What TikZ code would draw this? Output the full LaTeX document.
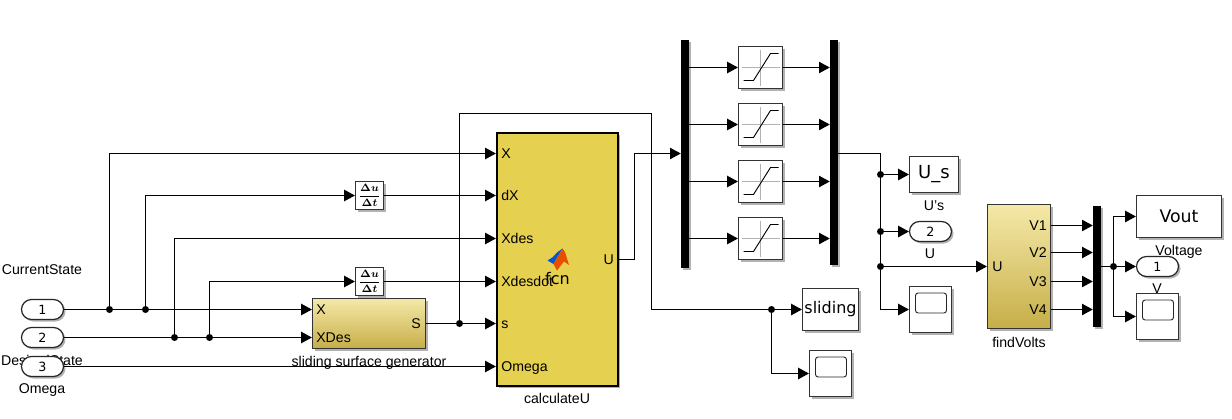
\documentclass[tikz,border=0pt]{standalone}
\usepackage{fontspec}
\setmainfont{Liberation Sans}
\newfontfamily\dejavu{DejaVu Sans}
\usetikzlibrary{arrows.meta,shadows}

\def\pxu{0.75pt}
\definecolor{fcnyellow}{HTML}{E6D050}
\definecolor{subtop}{HTML}{F5E9A8}
\definecolor{subbot}{HTML}{C6AE48}

\newcommand{\dudt}{\mbox{\boldmath$\displaystyle\frac{\Delta u}{\Delta t}$}}

\tikzset{
  wire/.style={line width=0.75pt, -{Triangle[length=8pt,width=8.5pt]}},
  plainwire/.style={line width=0.75pt},
  dot/.style={circle, fill=black, inner sep=0pt, minimum size=7*\pxu},
  boxsize/.style 2 args={minimum width=#1*\pxu, minimum height=#2*\pxu},
  softshadow/.style={general shadow={shadow xshift=1.5pt, shadow yshift=-1.5pt, fill=black, opacity=0.3}},
  block/.style={draw=black!80, line width=0.9pt, fill=white, inner sep=0pt, softshadow},
  subsystem/.style={block, top color=subtop, bottom color=subbot},
  bar/.style={fill=black, inner sep=0pt, softshadow},
  port/.style={draw=black!85, line width=0.9pt, fill=white, rounded corners=7.5pt, inner sep=0pt, boxsize={42}{20}, softshadow, font=\fontsize{9.5}{11}\dejavu},
  screen/.style={draw=black!85, line width=0.7pt, rounded corners=2pt, boxsize={31}{20}, inner sep=0pt},
  txt/.style={font=\fontsize{10.6}{12}\selectfont, inner sep=0pt, text height=7.6pt, text depth=0pt},
  portlbl/.style={txt, anchor=west},
  outlbl/.style={txt, anchor=east},
  biglbl/.style={font=\fontsize{12}{14}\dejavu, inner sep=0pt},
}

\begin{document}
\begin{tikzpicture}[x=\pxu, y=-\pxu, line cap=butt, line join=miter]
  \useasboundingbox (0,0) rectangle (1232,418);

  % labels under the inports
  \node[txt] (lblcurrent) at (42,269) {CurrentState};
  \node[txt] (lbldesired) at (42,360.5) {DesiredState};
  \node[txt] (lblomega) at (42,388) {Omega};
  \node[txt] (lblsliding) at (369,361) {sliding surface generator};

  \node[port] (inone) at (42.5,309.5) {1};
  \node[port] (intwo) at (42.5,337.5) {2};
  \node[port] (inthree) at (42.5,366.5) {3};

  % blocks
  \node[subsystem, boxsize={113}{50}] (surface) at (369,323.5) {};
  \node[portlbl] (surfX) at (316,309.5) {X};
  \node[portlbl] (surfXDes) at (316,337.5) {XDes};
  \node[outlbl] (surfS) at (421,323.5) {S};

  \node[block, boxsize={28}{28}, font=\fontsize{8.5}{9}\selectfont] (derivone) at (369.5,195.5) {\dudt};
  \node[block, boxsize={28}{28}, font=\fontsize{8.5}{9}\selectfont] (derivtwo) at (369.5,281.5) {\dudt};

  \node[block, draw=black, line width=1.7pt, fill=fcnyellow, boxsize={121}{253}] (calc) at (557.5,259.5) {};
  \node[portlbl] (calcX) at (501,153.5) {X};
  \node[portlbl] (calcdX) at (501,195.5) {dX};
  \node[portlbl] (calcXdes) at (501,238.5) {Xdes};
  \node[portlbl] (calcXdot) at (501,281.5) {Xdesdot};
  \node[portlbl] (calcs) at (501,323.5) {s};
  \node[portlbl] (calcOmega) at (501,366.5) {Omega};
  \node[outlbl] (calcU) at (614,259.5) {U};
  \node[txt] (lblcalc) at (557,398) {calculateU};

  % matlab logo and function name
  \fill[blue!60!cyan!85!black] (547.5,260.5) -- (553,257) -- (557,252.5) -- (562.5,248.5) -- (558,256) -- (553.5,264) -- cycle;
  \fill[orange!70!red!90!black] (562.5,248.5) -- (565,252) -- (569,265) -- (564,261.5) -- (557,270.5) -- (553.5,264) -- (558,256) -- cycle;
  \node[font=\fontsize{12}{14}\dejavu, inner sep=0pt] (lblfcn) at (557.5,279) {fcn};

  \node[bar, boxsize={8}{228}] (demux) at (685,153.5) {};
  \node[bar, boxsize={8}{225}] (mux) at (834,152.5) {};

  \foreach \i/\y in {1/67.5,2/124.5,3/181.5,4/238.5}{
    \node[block, boxsize={44}{42}] (sat\i) at (760.5,\y) {};
    \begin{scope}[shift={(sat\i.center)}]
      \draw[black!30, line width=0.6pt] (-19,0) -- (19,0) (0,-18) -- (0,18);
      \draw[line width=0.7pt] (-17,13) -- (-7,13) -- (10,-14) -- (18,-14);
    \end{scope}
    \draw[wire] (demux.east |- sat\i.west) -- (sat\i.west);
    \draw[wire] (sat\i.east) -- (mux.west |- sat\i.east);
  }

  \node[block, boxsize={49}{36}] (Us) at (934,174.5) {};
  \node[biglbl, font=\fontsize{13.5}{15}\dejavu] (lblUsbox) at (934,174) {U\_s};
  \node[txt] (lblUs) at (934,205) {U's};
  \node[port] (outtwo) at (930.5,231.5) {2};
  \node[txt] (lblU) at (930,253) {U};
  \node[block, boxsize={42}{46}] (scopeU) at (930.5,309.5) {};
  \node[screen] (scrU) at (931,303) {};

  \node[subsystem, boxsize={63}{124}] (volts) at (1019,266.5) {};
  \node[portlbl] (voltsU) at (992,266.5) {U};
  \node[outlbl] (voltsVa) at (1047,225.5) {V1};
  \node[outlbl] (voltsVb) at (1047,252.5) {V2};
  \node[outlbl] (voltsVc) at (1047,281.5) {V3};
  \node[outlbl] (voltsVd) at (1047,309.5) {V4};
  \node[txt] (lblvolts) at (1019,342) {findVolts};
  \node[bar, boxsize={8}{121}] (muxV) at (1097,266.5) {};

  \node[block, boxsize={85}{42}] (vout) at (1179,216.5) {};
  \node[biglbl, font=\fontsize{13}{15}\dejavu] (lblvoutbox) at (1179,216) {Vout};
  \node[txt] (lblvoltage) at (1179,250.5) {Voltage};
  \node[txt] (lblV) at (1157,288) {V};
  \node[port] (outone) at (1157.5,266.5) {1};
  \node[block, boxsize={42}{46}] (scopeV) at (1157.5,316.5) {};
  \node[screen] (scrV) at (1158,310) {};

  \node[block, boxsize={56}{42}] (sliding) at (830.5,309.5) {};
  \node[biglbl] (lblslidingbox) at (830.5,309) {sliding};
  \node[block, boxsize={42}{46}] (scopeS) at (830.5,373.5) {};
  \node[screen] (scrS) at (831,367) {};

  % junctions
  \node[dot] (ja) at (109.5,309.5) {};
  \node[dot] (jb) at (145.5,309.5) {};
  \node[dot] (jc) at (174.5,337.5) {};
  \node[dot] (jd) at (209.5,337.5) {};
  \node[dot] (js) at (459.5,323.5) {};
  \node[dot] (jslide) at (771.5,309.5) {};
  \node[dot] (jUs) at (880.5,174.5) {};
  \node[dot] (jUo) at (880.5,231.5) {};
  \node[dot] (jUf) at (880.5,266.5) {};
  \node[dot] (jV) at (1113.5,266.5) {};

  % wires on the left
  \draw[plainwire] (inone) -- (ja);
  \draw[plainwire] (ja) -- (jb);
  \draw[wire] (jb) -- (surface.west |- surfX.west);
  \draw[plainwire] (intwo) -- (jc);
  \draw[plainwire] (jc) -- (jd);
  \draw[wire] (jd) -- (surface.west |- surfXDes.west);
  \draw[wire] (inthree.east) -- (calc.west |- calcOmega.west);

  \draw[wire] (ja) |- (calc.west |- calcX.west);
  \draw[wire] (jb) |- (derivone.west);
  \draw[wire] (derivone.east) -- (calc.west |- calcdX.west);
  \draw[wire] (jc) |- (calc.west |- calcXdes.west);
  \draw[wire] (jd) |- (derivtwo.west);
  \draw[wire] (derivtwo.east) -- (calc.west |- calcXdot.west);

  \draw[plainwire] (surface.east |- surfS.east) -- (js);
  \draw[wire] (js) -- (calc.west |- calcs.west);
  \draw[plainwire] (js) -- (459.5,113.5) -- (651.5,113.5) -- (651.5,309.5) -- (jslide);
  \draw[wire] (jslide) -- (sliding.west);
  \draw[wire] (jslide) |- (scopeS.west);

  % wires on the right
  \draw[wire] (calc.east |- calcU.east) -- (634.5,259.5) -- (634.5,153.5) -- (demux.west);
  \draw[plainwire] (mux.east |- demux.east) -- (880.5,153.5) -- (jUs);
  \draw[plainwire] (jUs) -- (jUo);
  \draw[plainwire] (jUo) -- (jUf);
  \draw[wire] (jUs) -- (Us.west);
  \draw[wire] (jUo) -- (outtwo.west);
  \draw[wire] (jUf) -- (volts.west |- voltsU.west);
  \draw[wire] (jUf) |- (scopeU.west);

  \draw[wire] (volts.east |- voltsVa.east) -- (muxV.west |- voltsVa.east);
  \draw[wire] (volts.east |- voltsVb.east) -- (muxV.west |- voltsVb.east);
  \draw[wire] (volts.east |- voltsVc.east) -- (muxV.west |- voltsVc.east);
  \draw[wire] (volts.east |- voltsVd.east) -- (muxV.west |- voltsVd.east);
  \draw[plainwire] (muxV.east) -- (jV);
  \draw[wire] (jV) -- (outone.west);
  \draw[wire] (jV) |- (vout.west);
  \draw[wire] (jV) |- (scopeV.west);

\end{tikzpicture}
\end{document}
